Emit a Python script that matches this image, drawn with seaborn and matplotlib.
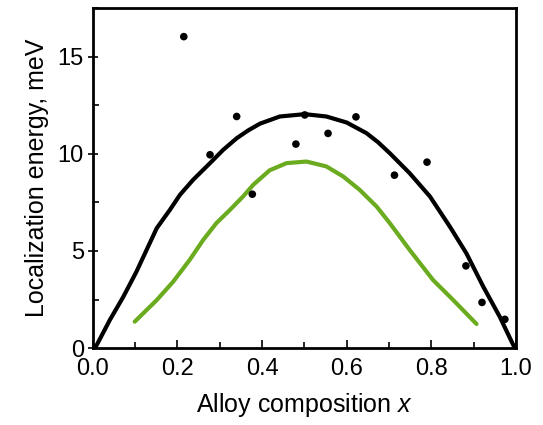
import pandas as pd
import seaborn as sns
import matplotlib.pyplot as plt
from matplotlib.ticker import MultipleLocator

# Measured localization energies (meV) vs alloy composition
exp_x = [0.215, 0.277, 0.340, 0.377, 0.480, 0.501, 0.556, 0.622, 0.713, 0.790, 0.882, 0.920, 0.974]
exp_E = [16.03, 9.95, 11.92, 7.92, 10.5, 12.0, 11.05, 11.9, 8.9, 9.57, 4.23, 2.35, 1.48]

# Black model curve
black_x = [0.0, 0.009, 0.040, 0.072, 0.103, 0.127, 0.151, 0.182, 0.206, 0.237, 0.277,
           0.308, 0.340, 0.367, 0.395, 0.442, 0.501, 0.552, 0.600, 0.647, 0.674,
           0.702, 0.749, 0.797, 0.844, 0.883, 0.923, 0.962, 0.994, 1.0]
black_E = [0.0, 0.15, 1.44, 2.64, 3.93, 5.05, 6.17, 7.11, 7.89, 8.66, 9.52,
           10.2, 10.8, 11.2, 11.55, 11.92, 12.04, 11.92, 11.61, 11.06, 10.6,
           10.03, 9.0, 7.8, 6.25, 4.88, 3.16, 1.61, 0.15, 0.0]

# Green model curve
green_x = [0.099, 0.151, 0.190, 0.229, 0.261, 0.292, 0.324, 0.355, 0.379, 0.418,
           0.458, 0.505, 0.552, 0.592, 0.631, 0.671, 0.702, 0.749, 0.804, 0.852, 0.907]
green_E = [1.36, 2.47, 3.42, 4.54, 5.57, 6.43, 7.11, 7.8, 8.4, 9.15,
           9.52, 9.60, 9.35, 8.83, 8.14, 7.28, 6.43, 5.05, 3.51, 2.47, 1.24]

sns.set_style("ticks")
plt.rcParams['font.family'] = ['Liberation Sans', 'DejaVu Sans']
plt.rcParams['mathtext.fontset'] = 'custom'
plt.rcParams['mathtext.it'] = 'Liberation Sans:italic'
plt.rcParams['text.color'] = 'black'
plt.rcParams['axes.labelcolor'] = 'black'
plt.rcParams['xtick.color'] = 'black'
plt.rcParams['ytick.color'] = 'black'

fig = plt.figure(figsize=(5.43, 4.25), dpi=100)
ax = fig.add_axes([0.171, 0.181, 0.779, 0.800])

df_black = pd.DataFrame({'x': black_x, 'E': black_E})
df_green = pd.DataFrame({'x': green_x, 'E': green_E})
df_exp = pd.DataFrame({'x': exp_x, 'E': exp_E})

sns.lineplot(data=df_black, x='x', y='E', color='black', linewidth=3, sort=False, ax=ax)
sns.lineplot(data=df_green, x='x', y='E', color='#6aab1f', linewidth=3, sort=False,
             solid_capstyle='round', ax=ax)
sns.scatterplot(data=df_exp, x='x', y='E', color='black', s=30,
                edgecolor='none', zorder=5, ax=ax)

ax.set_xlim(0, 1)
ax.set_ylim(0, 17.5)
ax.xaxis.set_major_locator(MultipleLocator(0.2))
ax.xaxis.set_minor_locator(MultipleLocator(0.1))
ax.yaxis.set_major_locator(MultipleLocator(5))
ax.yaxis.set_minor_locator(MultipleLocator(2.5))

for s in ax.spines.values():
    s.set_visible(True)
    s.set_linewidth(2)
    s.set_color('black')

ax.tick_params(axis='x', which='major', direction='in', length=6, width=1.2, labelsize=17, pad=7)
ax.tick_params(axis='x', which='minor', direction='in', length=4, width=1.2)
ax.tick_params(axis='y', which='major', direction='inout', length=7, width=1.2, labelsize=17, pad=3)
ax.tick_params(axis='y', which='minor', direction='in', length=4, width=1.2)

ax.set_xlabel('Alloy composition $x$', fontsize=18, labelpad=8)
ax.set_ylabel('Localization energy, meV', fontsize=18, labelpad=6)

fig.savefig('out.png', dpi=100)
